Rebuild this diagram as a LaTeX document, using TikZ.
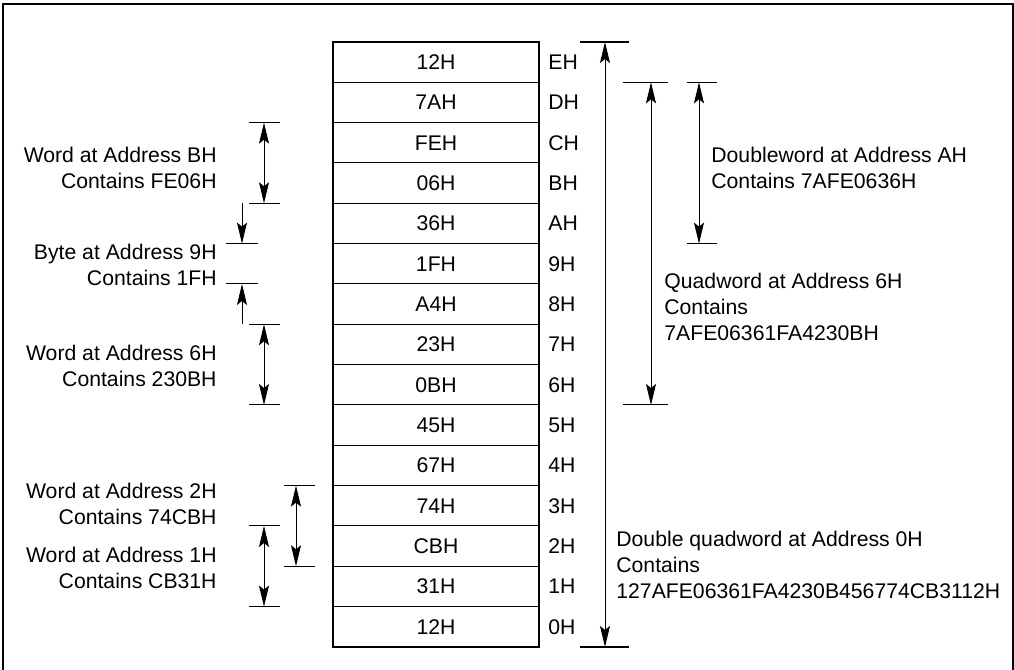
\documentclass[tikz,border=0pt]{standalone}
\usepackage{fontspec}
\setmainfont{Liberation Sans}
\usetikzlibrary{arrows.meta, positioning, calc}

\begin{document}
\begin{tikzpicture}[
  x=0.5pt, y=0.5pt,
  font=\fontsize{10.6}{13}\selectfont,
  >={Stealth[length=10.5pt, width=5pt, inset=2pt]},
  cell/.style={draw, line width=0.5pt, minimum width=103pt, minimum height=20.17pt, inner sep=0pt, outer sep=0pt},
  addr/.style={inner sep=0pt},
  lnote/.style={inner sep=0pt, align=right, anchor=east},
  rnote/.style={inner sep=0pt, align=left, anchor=west},
  span/.style={<->, line width=0.5pt},
  tick/.style={line width=0.5pt},
  bigtick/.style={line width=1pt},
]
\useasboundingbox (0,0) rectangle (1014,670);
% outer frame, open at the bottom of the page
\draw[line width=1pt] (3,-10) -- (3,666) -- (1013,666) -- (1013,-10);

% memory bytes, highest address on top
\foreach \val/\adr [count=\i from 0] in {12H/E,7AH/D,FEH/C,06H/B,36H/A,1FH/9,A4H/8,23H/7,0BH/6,45H/5,67H/4,74H/3,CBH/2,31H/1,12H/0}{
  \node[cell] (m\adr) at (436,{628-40.33*(\i+0.5)}) {\val};
  \node[addr, right=4.5pt of m\adr] (a\adr) {\adr H};
}
\draw[line width=1pt] (mE.north west) rectangle (m0.south east);

% right side: double quadword, quadword, doubleword
\coordinate (dqT) at (605,0 |- mE.north);
\coordinate (dqB) at (605,0 |- m0.south);
\draw[span] (dqT) -- (dqB);
\draw[bigtick] ([xshift=-12.5pt]dqT) -- ([xshift=12pt]dqT);
\draw[bigtick] ([xshift=-12.5pt]dqB) -- ([xshift=12pt]dqB);

\coordinate (qwT) at (651,0 |- mD.north);
\coordinate (qwB) at (651,0 |- m6.south);
\draw[span] (qwT) -- (qwB);
\coordinate (dwT) at (699,0 |- mD.north);
\coordinate (dwB) at (699,0 |- mA.south);
\draw[span] (dwT) -- (dwB);

% left side: words and byte
\coordinate (wbT) at (264,0 |- mC.north);
\coordinate (wbB) at (264,0 |- mB.south);
\draw[span] (wbT) -- (wbB);
\coordinate (w6T) at (264,0 |- m7.north);
\coordinate (w6B) at (264,0 |- m6.south);
\draw[span] (w6T) -- (w6B);
\coordinate (w2T) at (296,0 |- m3.north);
\coordinate (w2B) at (296,0 |- m2.south);
\draw[span] (w2T) -- (w2B);
\coordinate (w1T) at (264,0 |- m2.north);
\coordinate (w1B) at (264,0 |- m1.south);
\draw[span] (w1T) -- (w1B);

\coordinate (byA) at (242,0 |- mA.north);
\coordinate (byT) at (242,0 |- m9.north);
\coordinate (byB) at (242,0 |- m9.south);
\coordinate (byZ) at (242,0 |- m8.south);
\draw[->, line width=0.5pt] (byA) -- (byT);
\draw[->, line width=0.5pt] (byZ) -- (byB);

% end ticks
\foreach \c/\l/\r in {qwT/14/8.5, qwB/14/8.5, dwT/6/9, dwB/6/9,
    wbT/7.5/8, wbB/7.5/8, w6T/7.5/8, w6B/7.5/8, w1T/7.5/8, w1B/7.5/8,
    w2T/6/9.5, w2B/6/9.5, byT/8/8, byB/8/8}
  \draw[tick] ([xshift=-\l pt]\c) -- ([xshift=\r pt]\c);

% labels
\node[lnote] (tWB) at (217,502.5) {Word at Address BH\\Contains FE06H};
\node[lnote] (tB9) at (217,405.5) {Byte at Address 9H\\Contains 1FH};
\node[lnote] (tW6) at (217,304) {Word at Address 6H\\Contains 230BH};
\node[lnote] (tW2) at (217,166) {Word at Address 2H\\Contains 74CBH};
\node[lnote] (tW1) at (217,102.5) {Word at Address 1H\\Contains CB31H};
\node[rnote] (tDW) at (711,502) {Doubleword at Address AH\\Contains 7AFE0636H};
\node[rnote] (tQW) at (664,363) {Quadword at Address 6H\\Contains\\7AFE06361FA4230BH};
\node[rnote] (tDQ) at (616,105) {Double quadword at Address 0H\\Contains\\127AFE06361FA4230B456774CB3112H};
\end{tikzpicture}
\end{document}
